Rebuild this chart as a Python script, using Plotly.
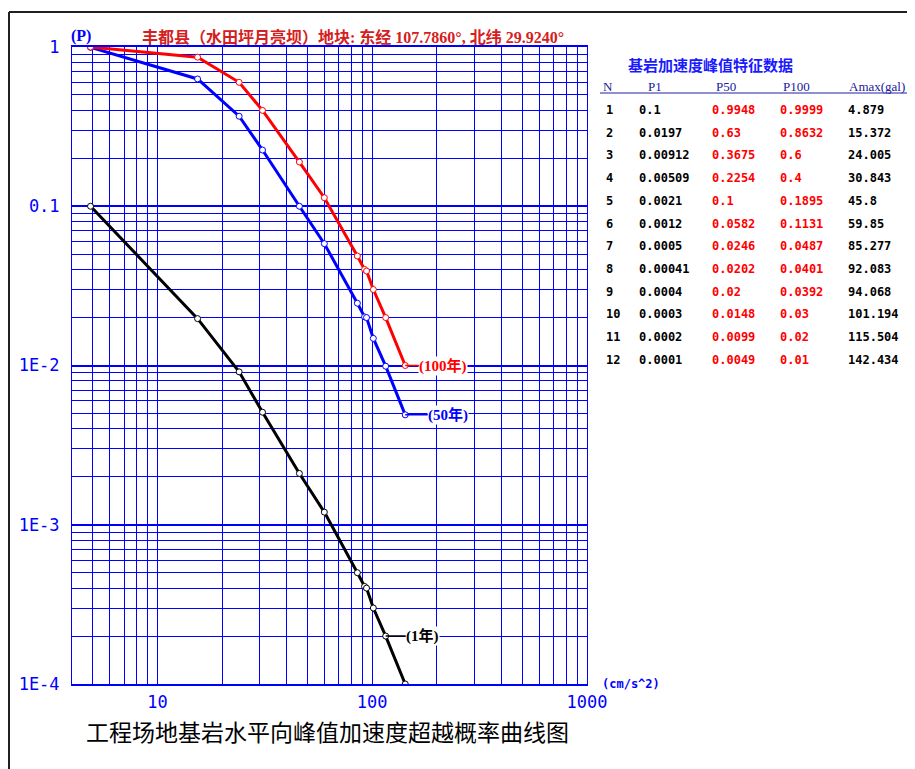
import math
import plotly.graph_objects as go

# ---- data ----
N = [1, 2, 3, 4, 5, 6, 7, 8, 9, 10, 11, 12]
P1 = [0.1, 0.0197, 0.00912, 0.00509, 0.0021, 0.0012, 0.0005, 0.00041, 0.0004, 0.0003, 0.0002, 0.0001]
P50 = [0.9948, 0.63, 0.3675, 0.2254, 0.1, 0.0582, 0.0246, 0.0202, 0.02, 0.0148, 0.0099, 0.0049]
P100 = [0.9999, 0.8632, 0.6, 0.4, 0.1895, 0.1131, 0.0487, 0.0401, 0.0392, 0.03, 0.02, 0.01]
Amax = [4.879, 15.372, 24.005, 30.843, 45.8, 59.85, 85.277, 92.083, 94.068, 101.194, 115.504, 142.434]

y_tickvals = [1e-4, 1e-3, 1e-2, 0.1, 1]
y_ticktext = ["1E-4", "1E-3", "1E-2", "0.1", "1"]
x_tickvals = [10, 100, 1000]
x_ticktext = ["10", "100", "1000"]

title_text = "丰都县（水田坪月亮坝）地块: 东经 107.7860°, 北纬 29.9240°"
bottom_title = "工程场地基岩水平向峰值加速度超越概率曲线图"
table_title = "基岩加速度峰值特征数据"
table_headers = ["N", "P1", "P50", "P100", "Amax(gal)"]

# ---- layout geometry (reference page pixels; page body adds an 8px offset) ----
OFF = 8
W, H = 915 - OFF, 769 - OFF
L, R, T, B = 72, 587, 47, 684


def px(x):
    return (x - L) / (R - L)


def py(y):
    return (B - y) / (B - T)


BLUE = "#0000ff"
CJK = "Liberation Serif, Noto Sans CJK SC"
MONO = "DejaVu Sans Mono, Noto Sans CJK SC"

fig = go.Figure()

series = [
    (P1, "black", "(1年)", 10, 37),
    (P50, "#0000ff", "(50年)", 11, 43),
    (P100, "#ff0000", "(100年)", 11, 38),
]
for vals, col, lab, idx, off in series:
    fig.add_trace(go.Scatter(
        x=Amax, y=vals, mode="lines+markers",
        line=dict(color=col, width=3),
        marker=dict(symbol="circle", size=6, color="white", line=dict(color=col, width=1)),
        showlegend=False, hoverinfo="x+y",
    ))
    fig.add_annotation(
        x=math.log10(Amax[idx]), y=math.log10(vals[idx]),
        xref="x", yref="y", text="<b>" + lab + "</b>",
        showarrow=True, arrowhead=0, arrowwidth=1.5, arrowcolor=col,
        ax=off, ay=0, axref="pixel", ayref="pixel",
        font=dict(family=CJK, size=15, color=col), bgcolor="white", borderpad=0,
    )

minor_x = [m * 10 ** e for e in (0, 1, 2) for m in range(2, 10) if 4 <= m * 10 ** e < 1000]
minor_y = [m * 10.0 ** e for e in (-4, -3, -2, -1) for m in range(2, 10)]

fig.update_xaxes(
    type="log", range=[math.log10(4), 3],
    tickvals=x_tickvals, ticktext=x_ticktext,
    showgrid=True, gridcolor=BLUE, gridwidth=1,
    showline=True, mirror=True, linecolor=BLUE, linewidth=2,
    ticks="", ticklabelstandoff=2,
    tickfont=dict(family=MONO, size=17, color=BLUE),
    minor=dict(tickvals=minor_x, showgrid=True, gridcolor=BLUE, gridwidth=1, ticks=""),
    zeroline=False,
)
fig.update_yaxes(
    type="log", range=[-4, 0],
    tickvals=y_tickvals, ticktext=y_ticktext,
    showgrid=True, gridcolor=BLUE, gridwidth=2,
    showline=True, mirror=True, linecolor=BLUE, linewidth=1,
    ticks="", ticklabelstandoff=8,
    tickfont=dict(family=MONO, size=17, color=BLUE),
    minor=dict(tickvals=minor_y, showgrid=True, gridcolor=BLUE, gridwidth=1, ticks=""),
    zeroline=False,
)

ann = []
ann.append(dict(x=px(353), y=py(37), xref="paper", yref="paper", text="<b>" + title_text + "</b>",
                showarrow=False, font=dict(family=CJK, size=16, color="#d42020"), xanchor="center", yanchor="middle"))
ann.append(dict(x=px(81), y=py(36), xref="paper", yref="paper", text="<b>(P)</b>",
                showarrow=False, font=dict(family="Liberation Serif", size=16, color=BLUE), xanchor="center", yanchor="middle"))
ann.append(dict(x=px(600), y=py(684), xref="paper", yref="paper", text="<b>(cm/s^2)</b>",
                showarrow=False, font=dict(family=MONO, size=12, color=BLUE), xanchor="left", yanchor="middle"))
ann.append(dict(x=px(327), y=py(731), xref="paper", yref="paper", text=bottom_title,
                showarrow=False, font=dict(family="Noto Sans CJK SC", size=23, color="black"), xanchor="center", yanchor="middle"))
ann.append(dict(x=px(710), y=py(65), xref="paper", yref="paper", text="<b>" + table_title + "</b>",
                showarrow=False, font=dict(family="Noto Sans CJK SC", size=15, color="#1a1aff"), xanchor="center", yanchor="middle"))

hdr_x = [608, 655, 726, 796, 877]
for hx, h in zip(hdr_x, table_headers):
    ann.append(dict(x=px(hx), y=py(87), xref="paper", yref="paper", text=h, showarrow=False,
                    font=dict(family="Liberation Serif", size=13, color="#2020a0"), xanchor="center", yanchor="middle"))

col_x = [604, 637, 710, 778, 846]
col_c = ["black", "black", "#ff0000", "#ff0000", "black"]
for i in range(len(N)):
    rowy = 110 + 22.7 * i
    vals = [N[i], P1[i], P50[i], P100[i], Amax[i]]
    for cx, cc, v in zip(col_x, col_c, vals):
        ann.append(dict(x=px(cx), y=py(rowy), xref="paper", yref="paper", text="<b>" + str(v) + "</b>",
                        showarrow=False, font=dict(family=MONO, size=12, color=cc), xanchor="left", yanchor="middle"))

for a in ann:
    fig.add_annotation(**a)

shapes = [
    dict(type="line", xref="paper", yref="paper", x0=px(9), x1=px(9), y0=py(12), y1=py(780), line=dict(color="#202020", width=2)),
    dict(type="line", xref="paper", yref="paper", x0=px(9), x1=px(920), y0=py(12), y1=py(12), line=dict(color="#202020", width=2)),
    dict(type="line", xref="paper", yref="paper", x0=px(600), x1=px(920), y0=py(93), y1=py(93), line=dict(color="#2020a0", width=1)),
]
fig.update_layout(
    width=W, height=H,
    margin=dict(l=L - OFF, r=(W + OFF) - R, t=T - OFF, b=(H + OFF) - B),
    paper_bgcolor="white", plot_bgcolor="white",
    shapes=shapes, showlegend=False,
)

fig.write_html("out.html")
